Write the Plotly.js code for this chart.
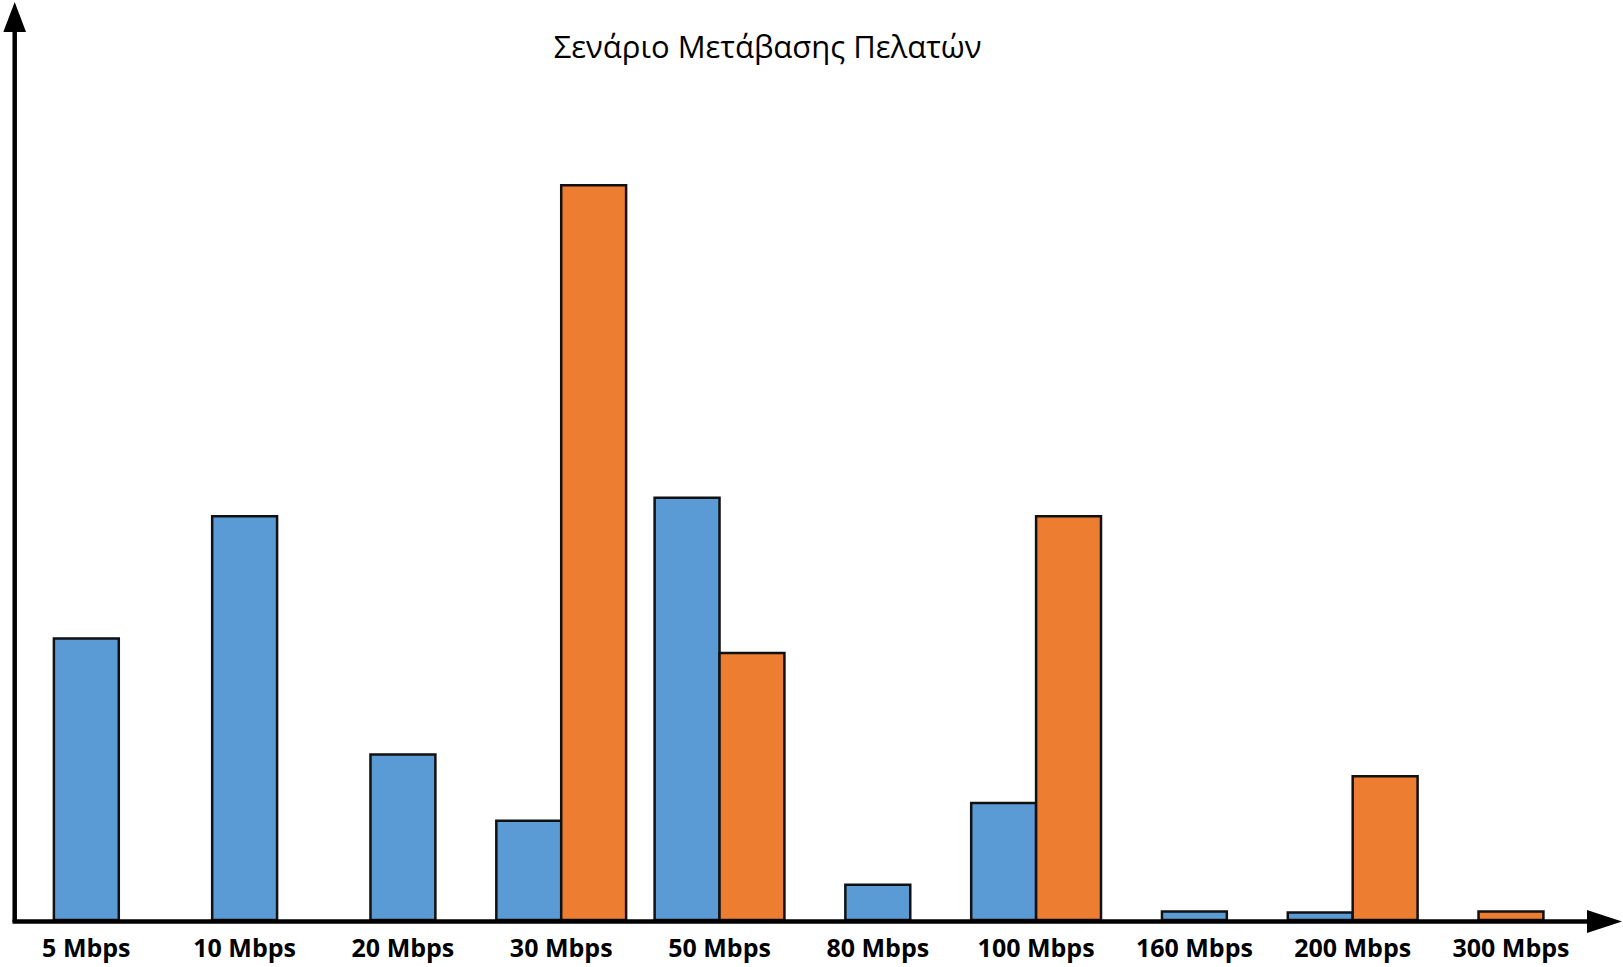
<!DOCTYPE html>
<html>
<head>
<meta charset="utf-8">
<script src="https://cdn.plot.ly/plotly-3.0.1.min.js"></script>
<style>html,body{margin:0;padding:0;background:#fff;}#chart{width:1623px;height:967px;}</style>
</head>
<body>
<div id="chart"></div>
<script>
// Data (arbitrary units; no y scale shown)
const categories = ['5 Mbps','10 Mbps','20 Mbps','30 Mbps','50 Mbps','80 Mbps','100 Mbps','160 Mbps','200 Mbps','300 Mbps'];
const blueValues   = [27.2, 39.0, 16.0, 9.6, 40.8, 3.4, 11.3, 0.83, 0.72, null];
const orangeValues = [null, null, null, 71.0, 25.8, null, 39.0, null, 13.9, 0.82];
const chartTitle = 'Σενάριο Μετάβασης Πελατών';

const BLUE = '#5B9BD5', ORANGE = '#ED7D31';
const W = 0.41; // bar width in category units

// offsets derived from which series are present in each category
const blueOffset = categories.map((c,i) => orangeValues[i] != null ? -W : -W/2);
const orangeOffset = categories.map((c,i) => blueValues[i] != null ? 0 : -W/2);

const traces = [
  {type:'bar', x:categories, y:blueValues, width:W, offset:blueOffset,
   marker:{color:BLUE, line:{color:'#111', width:2.5}}, hoverinfo:'x+y', name:'A'},
  {type:'bar', x:categories, y:orangeValues, width:W, offset:orangeOffset,
   marker:{color:ORANGE, line:{color:'#111', width:2.5}}, hoverinfo:'x+y', name:'B'}
];

// plot-area geometry (pixels) for decoration shapes
const L = 14, R = 43, T = 3, B = 47, FW = 1623, FH = 967;
const PW = FW - L - R, PH = FH - T - B;
const px = x => (x - L) / PW;
const py = y => (FH - B - y) / PH;

const shapes = [
  // y axis line and arrow
  {type:'line', xref:'paper', yref:'paper', x0:px(14.7), x1:px(14.7), y0:py(922), y1:py(28), line:{color:'#000', width:4.5}},
  {type:'path', xref:'paper', yref:'paper',
   path:`M ${px(14.7)} ${py(2)} L ${px(3.3)} ${py(32)} L ${px(26)} ${py(32)} Z`, fillcolor:'#000', line:{color:'#000', width:0}},
  // x axis line and arrow
  {type:'line', xref:'paper', yref:'paper', x0:px(12.5), x1:px(1592), y0:py(921.5), y1:py(921.5), line:{color:'#000', width:4.5}},
  {type:'path', xref:'paper', yref:'paper',
   path:`M ${px(1622)} ${py(921.5)} L ${px(1587)} ${py(910)} L ${px(1587)} ${py(933)} Z`, fillcolor:'#000', line:{color:'#000', width:0}}
];

const layout = {
  width: FW, height: FH,
  margin: {l:L, r:R, t:T, b:B, pad:0},
  paper_bgcolor:'#fff', plot_bgcolor:'#fff',
  showlegend:false,
  barmode:'overlay',
  title:{text:chartTitle, x:0.473, xref:'container', xanchor:'center', y:0.951, yref:'container', yanchor:'middle',
         font:{family:'Open Sans, Noto Sans, sans-serif', size:31, color:'#000'}},
  xaxis:{type:'category', range:[-0.457, 9.436], showgrid:false, zeroline:false, showline:false,
         ticks:'', ticklabelstandoff:11,
         tickfont:{family:'Open Sans, Noto Sans, sans-serif', size:25, color:'#000', weight:'bold'}},
  yaxis:{range:[0, 88.6], showgrid:false, zeroline:false, showline:false, showticklabels:false, ticks:''},
  shapes: shapes
};

Plotly.newPlot('chart', traces, layout, {displayModeBar:false, staticPlot:true});
</script>
</body>
</html>
